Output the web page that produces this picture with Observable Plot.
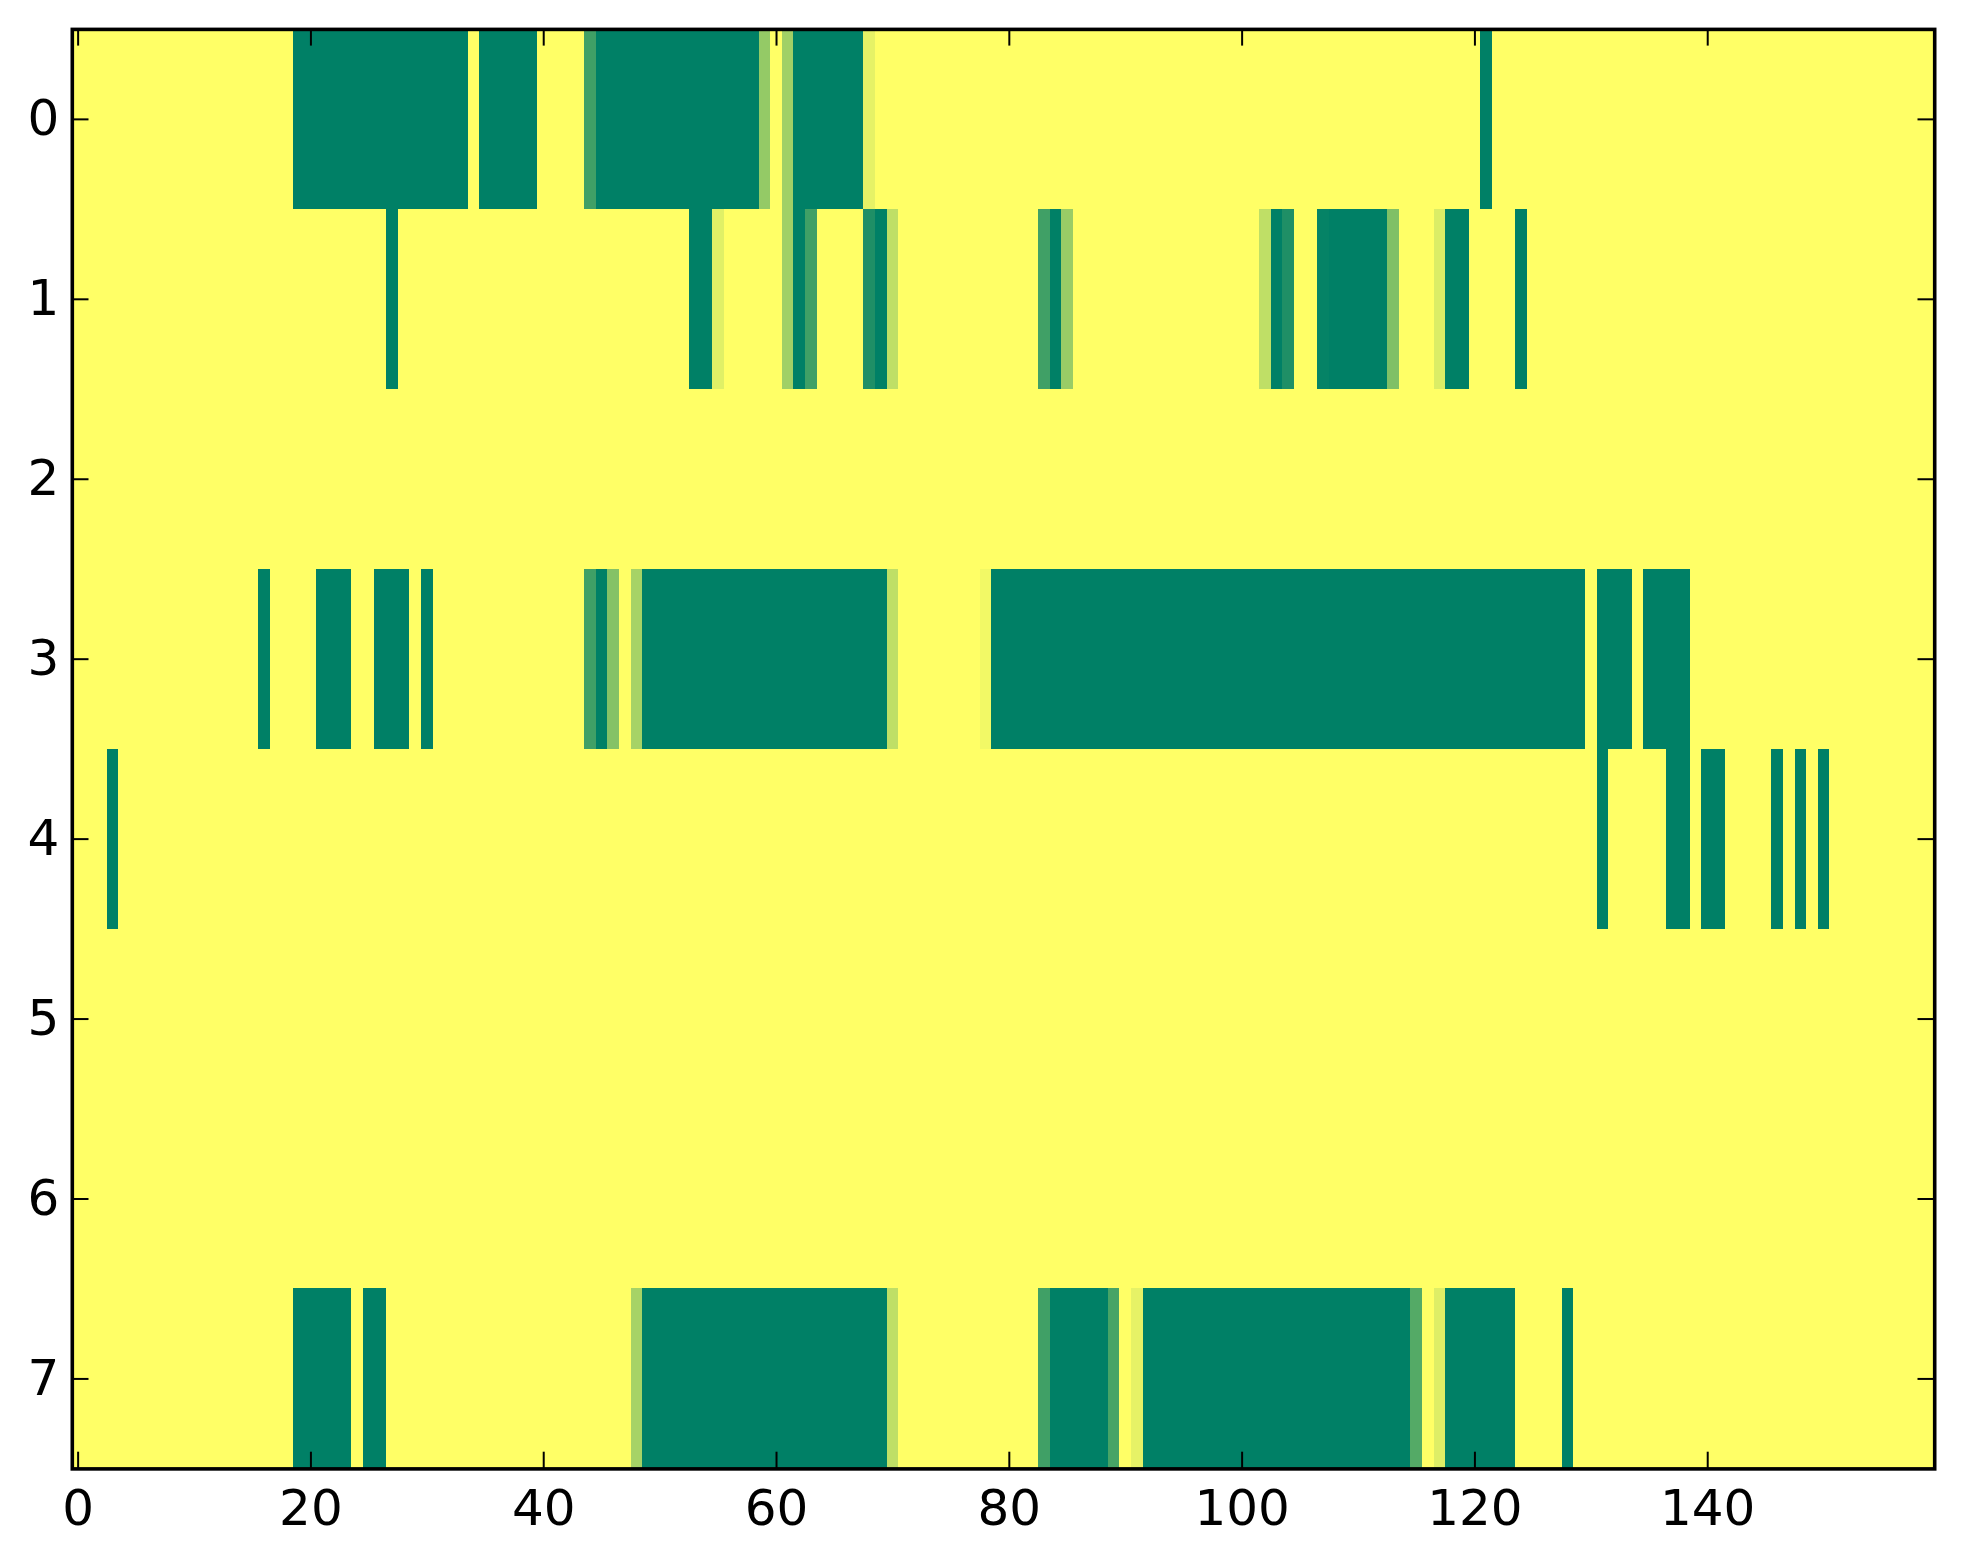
<!DOCTYPE html>
<html>
<head>
<meta charset="utf-8">
<script src="https://cdn.jsdelivr.net/npm/d3@7"></script>
<script src="https://cdn.jsdelivr.net/npm/@observablehq/plot@0.6"></script>
<style>
  html, body { margin: 0; padding: 0; background: #ffffff; }
  #chart { width: 1963px; height: 1564px; }
</style>
</head>
<body>
<div id="chart"></div>
<script>
// Heatmap values (0 = dark green, 1 = yellow), 8 rows x 160 columns
const row0 = [
  1,1,1,1,1,1,1,1,1,1,
  1,1,1,1,1,1,1,1,1,0,
  0,0,0,0,0,0,0,0,0,0,
  0,0,0,0,1,0,0,0,0,0,
  1,1,1,1,0.25,0,0,0,0,0,
  0,0,0,0,0,0,0,0,0,0.58,
  1,0.63,0,0,0,0,0,0,0.9,1,
  1,1,1,1,1,1,1,1,1,1,
  1,1,1,1,1,1,1,1,1,1,
  1,1,1,1,1,1,1,1,1,1,
  1,1,1,1,1,1,1,1,1,1,
  1,1,1,1,1,1,1,1,1,1,
  1,0,1,1,1,1,1,1,1,1,
  1,1,1,1,1,1,1,1,1,1,
  1,1,1,1,1,1,1,1,1,1,
  1,1,1,1,1,1,1,1,1,1
];
const row1 = [
  1,1,1,1,1,1,1,1,1,1,
  1,1,1,1,1,1,1,1,1,1,
  1,1,1,1,1,1,1,0,1,1,
  1,1,1,1,1,1,1,1,1,1,
  1,1,1,1,1,1,1,1,1,1,
  1,1,1,0,0,0.88,1,1,1,1,
  1,0.63,0,0.25,1,1,1,1,0.12,0,
  0.75,1,1,1,1,1,1,1,1,1,
  1,1,1,0.25,0,0.6,1,1,1,1,
  1,1,1,1,1,1,1,1,1,1,
  1,1,0.75,0,0.12,1,1,0.02,0,0,
  0,0,0,0.5,1,1,1,0.86,0,0,
  1,1,1,1,0,1,1,1,1,1,
  1,1,1,1,1,1,1,1,1,1,
  1,1,1,1,1,1,1,1,1,1,
  1,1,1,1,1,1,1,1,1,1
];
const row2 = [
  1,1,1,1,1,1,1,1,1,1, 1,1,1,1,1,1,1,1,1,1,
  1,1,1,1,1,1,1,1,1,1, 1,1,1,1,1,1,1,1,1,1,
  1,1,1,1,1,1,1,1,1,1, 1,1,1,1,1,1,1,1,1,1,
  1,1,1,1,1,1,1,1,1,1, 1,1,1,1,1,1,1,1,1,1,
  1,1,1,1,1,1,1,1,1,1, 1,1,1,1,1,1,1,1,1,1,
  1,1,1,1,1,1,1,1,1,1, 1,1,1,1,1,1,1,1,1,1,
  1,1,1,1,1,1,1,1,1,1, 1,1,1,1,1,1,1,1,1,1,
  1,1,1,1,1,1,1,1,1,1, 1,1,1,1,1,1,1,1,1,1
];
const row3 = [
  1,1,1,1,1,1,1,1,1,1,
  1,1,1,1,1,1,0,1,1,1,
  1,0,0,0,1,1,0,0,0,1,
  0,1,1,1,1,1,1,1,1,1,
  1,1,1,1,0.25,0,0.52,1,0.65,0,
  0,0,0,0,0,0,0,0,0,0,
  0,0,0,0,0,0,0,0,0,0,
  0.75,1,1,1,1,1,1,1,0.95,0,
  0,0,0,0,0,0,0,0,0,0,
  0,0,0,0,0,0,0,0,0,0,
  0,0,0,0,0,0,0,0,0,0,
  0,0,0,0,0,0,0,0,0,0,
  0,0,0,0,0,0,0,0,0,0,
  1,0,0,0,1,0,0,0,0,1,
  1,1,1,1,1,1,1,1,1,1,
  1,1,1,1,1,1,1,1,1,1
];
const row4 = [
  1,1,1,0,1,1,1,1,1,1,
  1,1,1,1,1,1,1,1,1,1,
  1,1,1,1,1,1,1,1,1,1,
  1,1,1,1,1,1,1,1,1,1,
  1,1,1,1,1,1,1,1,1,1,
  1,1,1,1,1,1,1,1,1,1,
  1,1,1,1,1,1,1,1,1,1,
  1,1,1,1,1,1,1,1,1,1,
  1,1,1,1,1,1,1,1,1,1,
  1,1,1,1,1,1,1,1,1,1,
  1,1,1,1,1,1,1,1,1,1,
  1,1,1,1,1,1,1,1,1,1,
  1,1,1,1,1,1,1,1,1,1,
  1,0,1,1,1,1,1,0,0,1,
  0,0,1,1,1,1,0,1,0,1,
  0,1,1,1,1,1,1,1,1,1
];
const row5 = [
  1,1,1,1,1,1,1,1,1,1, 1,1,1,1,1,1,1,1,1,1,
  1,1,1,1,1,1,1,1,1,1, 1,1,1,1,1,1,1,1,1,1,
  1,1,1,1,1,1,1,1,1,1, 1,1,1,1,1,1,1,1,1,1,
  1,1,1,1,1,1,1,1,1,1, 1,1,1,1,1,1,1,1,1,1,
  1,1,1,1,1,1,1,1,1,1, 1,1,1,1,1,1,1,1,1,1,
  1,1,1,1,1,1,1,1,1,1, 1,1,1,1,1,1,1,1,1,1,
  1,1,1,1,1,1,1,1,1,1, 1,1,1,1,1,1,1,1,1,1,
  1,1,1,1,1,1,1,1,1,1, 1,1,1,1,1,1,1,1,1,1
];
const row6 = [
  1,1,1,1,1,1,1,1,1,1, 1,1,1,1,1,1,1,1,1,1,
  1,1,1,1,1,1,1,1,1,1, 1,1,1,1,1,1,1,1,1,1,
  1,1,1,1,1,1,1,1,1,1, 1,1,1,1,1,1,1,1,1,1,
  1,1,1,1,1,1,1,1,1,1, 1,1,1,1,1,1,1,1,1,1,
  1,1,1,1,1,1,1,1,1,1, 1,1,1,1,1,1,1,1,1,1,
  1,1,1,1,1,1,1,1,1,1, 1,1,1,1,1,1,1,1,1,1,
  1,1,1,1,1,1,1,1,1,1, 1,1,1,1,1,1,1,1,1,1,
  1,1,1,1,1,1,1,1,1,1, 1,1,1,1,1,1,1,1,1,1
];
const row7 = [
  1,1,1,1,1,1,1,1,1,1,
  1,1,1,1,1,1,1,1,1,0,
  0,0,0,0,1,0,0,1,1,1,
  1,1,1,1,1,1,1,1,1,1,
  1,1,1,1,1,1,1,1,0.65,0,
  0,0,0,0,0,0,0,0,0,0,
  0,0,0,0,0,0,0,0,0,0,
  0.75,1,1,1,1,1,1,1,1,1,
  1,1,1,0.25,0,0,0,0,0,0.28,
  1,0.9,0,0,0,0,0,0,0,0,
  0,0,0,0,0,0,0,0,0,0,
  0,0,0,0,0,0.33,1,0.87,0,0,
  0,0,0,0,1,1,1,1,0,1,
  1,1,1,1,1,1,1,1,1,1,
  1,1,1,1,1,1,1,1,1,1,
  1,1,1,1,1,1,1,1,1,1
];
const rows = [row0, row1, row2, row3, row4, row5, row6, row7];
const xTicks = [0, 20, 40, 60, 80, 100, 120, 140];
const yTicks = [0, 1, 2, 3, 4, 5, 6, 7];

const cells = rows.flatMap((vals, r) => vals.map((v, c) => ({r, c, v})));

const W = 1963, H = 1564;
const mL = 71.8, mR = 28.8, mT = 28.9, mB = 95.6;
const frameW = W - mL - mR, frameH = H - mT - mB;
const tickLen = 16.7;

const chart = Plot.plot({
  width: W,
  height: H,
  marginLeft: mL,
  marginRight: mR,
  marginTop: mT,
  marginBottom: mB,
  style: {fontFamily: "DejaVu Sans", background: "#ffffff"},
  x: {type: "linear", domain: [-0.5, 159.5], axis: null},
  y: {type: "linear", domain: [-0.5, 7.5], reverse: true, axis: null},
  color: {type: "linear", domain: [0, 1], range: ["#008066", "#ffff66"], interpolate: "rgb"},
  marks: [
    Plot.rect(cells, {
      x1: d => d.c - 0.5, x2: d => d.c + 0.5,
      y1: d => d.r - 0.5, y2: d => d.r + 0.5,
      fill: "v", shapeRendering: "crispEdges"
    }),
    // inward ticks on all four sides
    Plot.tickX(xTicks, {x: d => d, stroke: "black", strokeWidth: 2, insetTop: frameH - tickLen}),
    Plot.tickX(xTicks, {x: d => d, stroke: "black", strokeWidth: 2, insetBottom: frameH - tickLen}),
    Plot.tickY(yTicks, {y: d => d, stroke: "black", strokeWidth: 2, insetRight: frameW - tickLen}),
    Plot.tickY(yTicks, {y: d => d, stroke: "black", strokeWidth: 2, insetLeft: frameW - tickLen}),
    Plot.frame({stroke: "black", strokeWidth: 3.6}),
    Plot.text(xTicks, {
      x: d => d, text: d => String(d), frameAnchor: "bottom",
      lineAnchor: "top", dy: 21, fontSize: 50, fill: "black"
    }),
    Plot.text(yTicks, {
      y: d => d, text: d => String(d), frameAnchor: "left",
      textAnchor: "end", dx: -13, fontSize: 50, fill: "black"
    })
  ]
});
document.getElementById("chart").appendChild(chart);
</script>
</body>
</html>
